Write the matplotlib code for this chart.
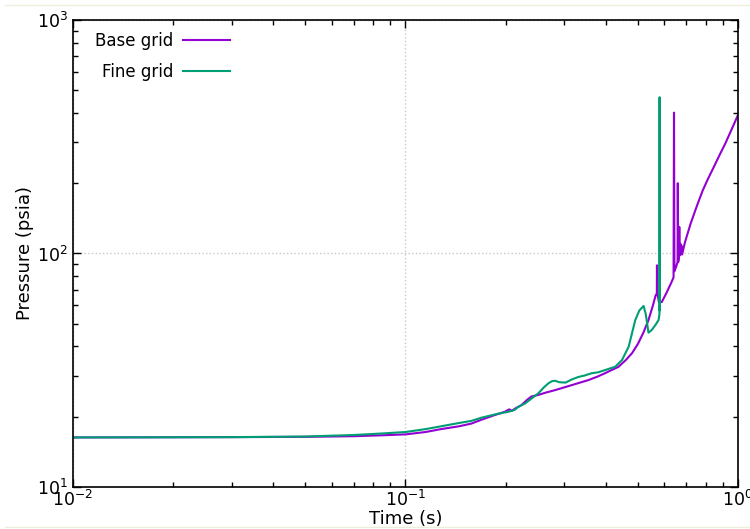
import matplotlib
matplotlib.use('Agg')
import matplotlib.pyplot as plt
from matplotlib.lines import Line2D

# base grid run (time in s, pressure in psia)
t_base = [0.01, 0.03, 0.05, 0.07, 0.085, 0.1, 0.115, 0.128, 0.145, 0.158,
          0.169, 0.185, 0.199, 0.205, 0.209, 0.215, 0.223, 0.232, 0.239, 0.245,
          0.251, 0.265, 0.282, 0.3, 0.316, 0.335, 0.355, 0.38, 0.4, 0.417,
          0.437, 0.46, 0.48, 0.5, 0.52, 0.538, 0.555, 0.565, 0.57, 0.5705,
          0.572, 0.578, 0.59, 0.61, 0.63, 0.64, 0.642, 0.644, 0.652, 0.658,
          0.659, 0.661, 0.664, 0.666, 0.668, 0.671, 0.673, 0.676, 0.679, 0.693,
          0.72, 0.744, 0.762, 0.783, 0.81, 0.845, 0.88, 0.916, 0.955, 1.0]
p_base = [16.3, 16.35, 16.4, 16.5, 16.65, 16.8, 17.2, 17.7, 18.2, 18.7,
          19.4, 20.3, 21.0, 21.5, 21.2, 21.8, 22.4, 23.6, 24.4, 24.6,
          24.8, 25.4, 26.0, 26.7, 27.3, 28.0, 28.7, 29.8, 30.8, 31.7,
          32.7, 35.0, 37.4, 41.0, 46.0, 51.9, 60.0, 66.0, 67.5, 89.0,
          68.0, 62.0, 62.0, 68.0, 75.0, 79.0, 401.0, 84.0, 88.0, 92.0,
          200.0, 92.0, 96.0, 130.0, 98.0, 110.0, 100.0, 108.0, 99.0, 112.0,
          134.0, 153.0, 168.0, 186.0, 207.0, 234.0, 264.0, 296.0, 338.0, 392.0]

# fine grid run
t_fine = [0.01, 0.03, 0.05, 0.07, 0.085, 0.1, 0.115, 0.128, 0.145, 0.158,
          0.169, 0.19, 0.204, 0.213, 0.218, 0.229, 0.24, 0.251, 0.26, 0.269,
          0.276, 0.282, 0.29, 0.303, 0.315, 0.331, 0.345, 0.363, 0.38, 0.399,
          0.415, 0.427, 0.448, 0.469, 0.491, 0.505, 0.52, 0.528, 0.538, 0.55,
          0.565, 0.577, 0.5805, 0.581, 0.5815, 0.582]
p_fine = [16.3, 16.35, 16.45, 16.7, 16.95, 17.2, 17.7, 18.2, 18.8, 19.2,
          19.8, 20.6, 21.0, 21.4, 22.0, 22.8, 24.0, 25.2, 26.6, 27.8,
          28.4, 28.5, 28.1, 28.0, 28.8, 29.6, 30.0, 30.7, 31.0, 31.7,
          32.3, 32.7, 35.0, 39.9, 51.9, 57.0, 59.6, 55.0, 45.8, 47.0,
          49.5, 51.9, 55.0, 467.0, 57.0, 59.0]

fig = plt.figure(figsize=(7.5, 5.29), dpi=100)
ax = fig.add_axes([0.0973, 0.0794, 0.8867, 0.8828])

ax.plot(t_base, p_base, color='#9400d3', lw=1.5, label='Base grid')
ax.plot(t_fine, p_fine, color='#009e73', lw=1.5, label='Fine grid')

ax.set_xscale('log')
ax.set_yscale('log')
ax.set_xlim(0.01, 1)
ax.set_ylim(10, 1000)

ax.grid(True, which='major', color='#c8c8c8', linestyle=':', linewidth=1)
ax.tick_params(which='both', direction='in', top=True, right=True, labelsize=12.5)
ax.tick_params(which='major', length=6, width=1)
ax.tick_params(axis='x', which='major', pad=2)
ax.tick_params(which='minor', length=3.5, width=1)
for s in ax.spines.values():
    s.set_linewidth(1.2)

ax.set_xlabel('Time (s)', fontsize=13, labelpad=0)
ax.set_ylabel('Pressure (psia)', fontsize=13, labelpad=2)

ax.legend(loc='upper left', bbox_to_anchor=(0.0, 1.02), frameon=False,
          markerfirst=False, fontsize=12, handlelength=2.8, handletextpad=0.6,
          labelspacing=0.75, borderaxespad=0.9)

# faint page border lines
fig.add_artist(Line2D([0.007, 1], [0.991, 0.991], transform=fig.transFigure,
                      color='#eeeedc', lw=1))
fig.add_artist(Line2D([0.007, 1], [0.003, 0.003], transform=fig.transFigure,
                      color='#eeeedc', lw=1))

plt.savefig('out.png', dpi=100)
